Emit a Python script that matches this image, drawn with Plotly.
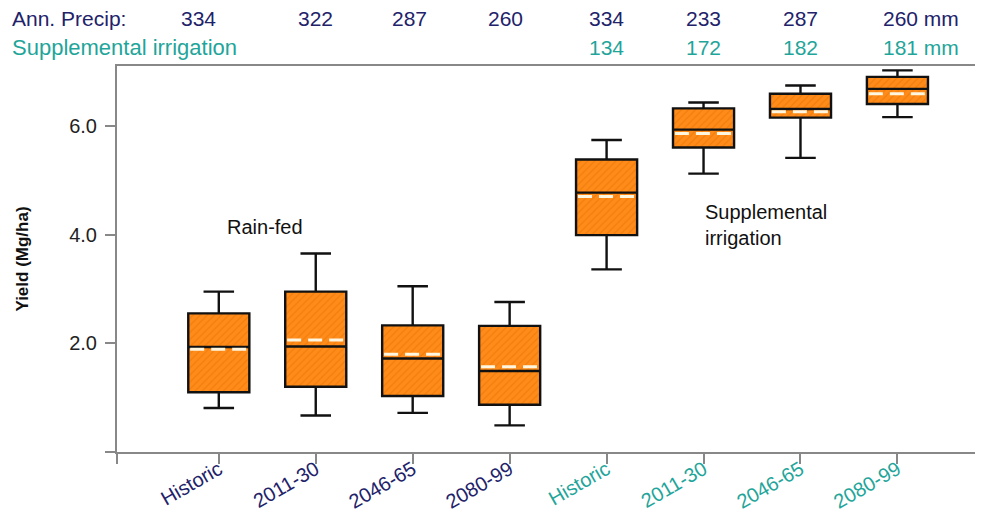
import plotly.graph_objects as go

# ---- data (Mg/ha) ----
periods = ["Historic", "2011-30", "2046-65", "2080-99", "Historic", "2011-30", "2046-65", "2080-99"]
groups = ["rain", "rain", "rain", "rain", "irr", "irr", "irr", "irr"]
lower_whisker = [0.81, 0.67, 0.72, 0.49, 3.36, 5.12, 5.41, 6.16]
q1 = [1.10, 1.20, 1.03, 0.87, 3.99, 5.60, 6.15, 6.40]
median = [1.93, 1.94, 1.72, 1.49, 4.77, 5.93, 6.31, 6.68]
mean = [1.89, 2.06, 1.80, 1.57, 4.70, 5.86, 6.26, 6.59]
q3 = [2.55, 2.95, 2.33, 2.32, 5.38, 6.32, 6.59, 6.90]
upper_whisker = [2.95, 3.65, 3.05, 2.76, 5.74, 6.43, 6.74, 7.02]
ann_precip = ["334", "322", "287", "260", "334", "233", "287", "260"]
supp_irr = ["", "", "", "", "134", "172", "182", "181"]
y_ticks = [0, 2, 4, 6]
y_tick_text = ["", "2.0", "4.0", "6.0"]

NAVY = "#22226a"
TEAL = "#1fa59a"
ORANGE = "#ff8c1a"
HATCH = "#e36f00"
FONT = "Liberation Sans, Arial, sans-serif"
BOXW = 0.63
HEAD_SHIFT = [-20, 0, -3, -4, 0, 0, 0, -16]

xs = list(range(len(periods)))
fig = go.Figure()

# hatched box fill
fig.add_trace(go.Bar(
    x=xs, y=[b - a for a, b in zip(q1, q3)], base=q1, width=BOXW,
    marker=dict(color=ORANGE, line=dict(width=0),
                pattern=dict(shape="/", fgcolor=HATCH, bgcolor=ORANGE, size=5, solidity=0.25)),
    hoverinfo="skip", showlegend=False))

# box outlines, medians, whiskers
fig.add_trace(go.Box(
    x=xs, q1=q1, median=median, q3=q3, lowerfence=lower_whisker, upperfence=upper_whisker,
    width=BOXW, whiskerwidth=0.5, fillcolor="rgba(0,0,0,0)",
    line=dict(color="#111111", width=2.4), boxpoints=False, showlegend=False))

# white dashed mean lines
mx, my = [], []
for i, m in zip(xs, mean):
    mx += [i - BOXW / 2 + 0.02, i + BOXW / 2 - 0.02, None]
    my += [m, m, None]
fig.add_trace(go.Scatter(x=mx, y=my, mode="lines",
                         line=dict(color="#fff6df", width=3, dash="14px,7px"),
                         hoverinfo="skip", showlegend=False))

tick_text = [f'<span style="color:{NAVY if g == "rain" else TEAL}">{p}</span>'
             for p, g in zip(periods, groups)]

fig.update_layout(
    width=986, height=516,
    margin=dict(l=117, r=11, t=66, b=64),
    plot_bgcolor="white", paper_bgcolor="white",
    font=dict(family=FONT, size=16, color="#111111"),
    xaxis=dict(range=[-1.05, 7.8], tickvals=[-1.05] + xs, ticktext=[""] + tick_text,
               tickangle=-30, ticks="outside", ticklen=10, tickwidth=2, tickcolor="#888888",
               showline=True, linecolor="#888888", linewidth=2, mirror=True, automargin=False,
               ticklabelstandoff=-14,
               showgrid=False, zeroline=False, tickfont=dict(size=20)),
    yaxis=dict(range=[0, 7.1], tickvals=y_ticks, ticktext=y_tick_text, automargin=False,
               ticks="outside", ticklen=10, tickwidth=2, tickcolor="#888888",
               showline=True, linecolor="#888888", linewidth=2, ticklabelstandoff=4,
               showgrid=False, zeroline=False, tickfont=dict(size=20, color="#222222"),
               title=dict(text="<b>Yield (Mg/ha)</b>", font=dict(size=17, color="#111111"),
                          standoff=36)),
)

annotations = []
annotations.append(dict(text="Ann. Precip:", xref="paper", yref="paper", x=-107 / 858,
                        y=1 + 48 / 386, xanchor="left", yanchor="middle", showarrow=False,
                        font=dict(size=21, color=NAVY)))
annotations.append(dict(text="Supplemental irrigation", xref="paper", yref="paper",
                        x=-107 / 858, y=1 + 19 / 386, xanchor="left", yanchor="middle",
                        showarrow=False, font=dict(size=22, color=TEAL)))
for i, (a, s) in enumerate(zip(ann_precip, supp_irr)):
    last = i == len(xs) - 1
    annotations.append(dict(text=a + (" mm" if last else ""), x=i, xref="x", yref="paper",
                            y=1 + 48 / 386, xanchor="left" if last else "center",
                            xshift=HEAD_SHIFT[i], yanchor="middle",
                            showarrow=False, font=dict(size=21, color=NAVY)))
    if s:
        annotations.append(dict(text=s + (" mm" if last else ""), x=i, xref="x", yref="paper",
                                y=1 + 19 / 386, xanchor="left" if last else "center",
                                xshift=HEAD_SHIFT[i], yanchor="middle",
                                showarrow=False, font=dict(size=21, color=TEAL)))
annotations.append(dict(text="Rain-fed", x=0.06, y=4.13, xref="x", yref="y", xanchor="left",
                        yanchor="middle", showarrow=False, font=dict(size=20, color="#111111")))
annotations.append(dict(text="Supplemental<br>irrigation", x=4.99, y=4.18, xref="x", yref="y",
                        xanchor="left", yanchor="middle", align="left", showarrow=False,
                        font=dict(size=20, color="#111111")))
fig.update_layout(annotations=annotations)

fig.write_html("out.html")
